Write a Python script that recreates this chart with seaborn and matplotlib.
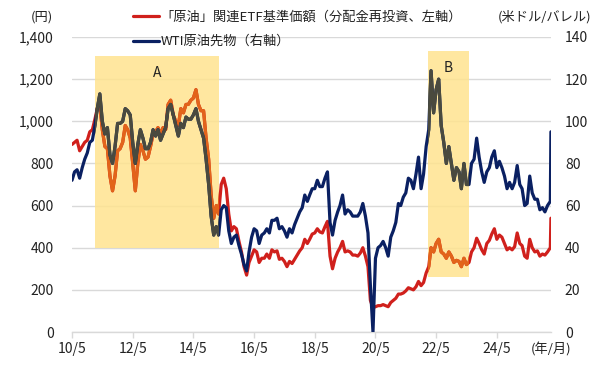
import numpy as np
import pandas as pd
import matplotlib
matplotlib.use("Agg")
import matplotlib.pyplot as plt
import matplotlib.dates as mdates
from matplotlib.patches import Rectangle
from matplotlib.lines import Line2D
from matplotlib.ticker import FuncFormatter, MultipleLocator
import seaborn as sns

# ---------------- data ----------------
month_starts = list(pd.date_range("2010-05-01", "2026-01-01", freq="MS"))
dates = month_starts + [pd.Timestamp("2026-02-04"), pd.Timestamp("2026-02-11")]

# WTI crude futures (USD/bbl, right axis)
wti = [
    72, 76, 77, 73, 78, 82, 85, 90,                          # 2010 May-Dec
    91, 98, 106, 113, 100, 94, 97, 84, 80, 88, 99, 99,       # 2011
    100, 106, 105, 103, 90, 80, 89, 96, 92, 87, 87, 90,      # 2012
    96, 93, 96, 91, 94, 97, 106, 108, 103, 98, 93, 99,       # 2013
    97, 102, 101, 101, 103, 106, 100, 96, 92, 82, 70, 55,    # 2014
    46, 50, 46, 58, 60, 59, 48, 42, 45, 46, 41, 37,          # 2015
    32, 29, 38, 45, 49, 48, 42, 46, 47, 49, 47, 53,          # 2016
    53, 54, 49, 50, 48, 45, 49, 47, 51, 54, 57, 59,          # 2017
    65, 62, 65, 68, 68, 72, 69, 69, 73, 76, 52, 46,          # 2018
    53, 57, 60, 65, 56, 58, 57, 55, 55, 55, 57, 61,          # 2019
    55, 47, 22, 0, 35, 40, 41, 43, 40, 36, 45, 48,           # 2020
    52, 61, 60, 64, 66, 73, 72, 68, 75, 83, 68, 75,          # 2021
    88, 96, 124, 104, 115, 120, 98, 90, 80, 88, 80, 72,      # 2022
    78, 76, 68, 80, 70, 70, 80, 82, 92, 83, 76, 71,          # 2023
    76, 78, 83, 86, 78, 81, 78, 74, 68, 71, 68, 71,          # 2024
    79, 70, 68, 60, 61, 74, 66, 63, 63, 58, 59, 57,          # 2025
    60, 62, 95,                                              # 2026
]

# "Crude oil" related ETF NAV (yen, dividends reinvested, left axis)
etf = [
    890, 900, 910, 860, 880, 900, 910, 950,                              # 2010
    960, 1010, 1060, 1080, 960, 880, 870, 740, 670, 740, 860, 870,       # 2011
    900, 980, 960, 920, 800, 670, 800, 890, 860, 820, 830, 880,          # 2012
    940, 950, 970, 940, 970, 960, 1080, 1100, 1030, 1000, 980, 1060,     # 2013
    1040, 1080, 1080, 1100, 1110, 1150, 1080, 1050, 1050, 920, 820, 650, # 2014
    540, 600, 560, 700, 730, 680, 560, 480, 500, 490, 430, 380,          # 2015
    310, 270, 330, 360, 390, 380, 330, 350, 350, 370, 350, 390,          # 2016
    380, 385, 345, 350, 335, 310, 335, 325, 345, 365, 385, 400,          # 2017
    440, 420, 440, 465, 470, 490, 475, 470, 500, 525, 360, 300,          # 2018
    350, 380, 400, 430, 380, 385, 380, 365, 365, 360, 375, 400,          # 2019
    360, 310, 150, 115, 120, 125, 125, 130, 125, 120, 140, 150,          # 2020
    160, 180, 180, 185, 195, 210, 205, 200, 215, 240, 220, 235,          # 2021
    280, 310, 400, 380, 420, 440, 380, 370, 350, 380, 360, 330,          # 2022
    340, 335, 310, 350, 320, 330, 380, 400, 445, 420, 390, 370,          # 2023
    420, 435, 465, 490, 440, 460, 450, 420, 390, 400, 390, 405,          # 2024
    470, 420, 410, 360, 350, 440, 400, 380, 385, 360, 370, 365,          # 2025
    380, 400, 540,                                                       # 2026
]

# highlighted periods: label, start, end, lower / upper bound (left-axis units)
region_labels = ["A", "B"]
region_start = ["2011-02-02", "2022-01-24"]
region_end = ["2015-03-01", "2023-06-01"]
region_low = [400, 262]
region_high = [1310, 1335]

tick_dates = ["2010-05-01", "2012-05-01", "2014-05-01", "2016-05-01",
              "2018-05-01", "2020-05-01", "2022-05-01", "2024-05-01"]
tick_labels = ["10/5", "12/5", "14/5", "16/5", "18/5", "20/5", "22/5", "24/5"]

etf_label = "「原油」関連ETF基準価額（分配金再投資、左軸）"
wti_label = "WTI原油先物（右軸）"

# ---------------- style ----------------
sns.set_theme(style="white")
plt.rcParams['font.family'] = ['Noto Sans CJK JP', 'DejaVu Sans']

RED = "#D0201C"
NAVY = "#0A2062"
ORANGE = "#E2641A"
GREY = "#4A4A3E"
BAND = "#FFE38F"
GRID = "#D9D9D9"
TXT = "#222222"

df = pd.DataFrame({"date": dates, "etf": etf, "wti": wti})

fig = plt.figure(figsize=(6.04, 3.78), dpi=100)
ax = fig.add_axes([72/604, 46/378, 479/604, 295/378])

sns.lineplot(data=df, x="date", y="etf", ax=ax, color=RED, lw=2.3, zorder=3)
ax2 = ax.twinx()
sns.lineplot(data=df, x="date", y="wti", ax=ax2, color=NAVY, lw=2.3, zorder=3)

ax.set_xlim(pd.Timestamp("2010-05-01"), pd.Timestamp("2026-02-12"))
ax.set_ylim(0, 1400)
ax2.set_ylim(0, 140)

# highlighted boxes with recoloured lines inside
for lab, s, e, lo, hi in zip(region_labels, region_start, region_end, region_low, region_high):
    x0 = mdates.date2num(pd.Timestamp(s))
    x1 = mdates.date2num(pd.Timestamp(e))
    rect = Rectangle((x0, lo), x1 - x0, hi - lo, facecolor=BAND, edgecolor="none",
                     alpha=0.85, zorder=1)
    ax.add_patch(rect)
    l1, = ax.plot(df["date"], df["etf"], color=ORANGE, lw=2.3, zorder=4)
    l1.set_clip_path(rect)
    l2, = ax2.plot(df["date"], df["wti"], color=GREY, lw=2.3, zorder=4)
    l2.set_clip_path(rect)
    ax.text((x0 + x1) / 2, hi - 80, lab, ha="center", va="center",
            fontsize=10, color=TXT, zorder=5)

# axes cosmetics
ax.set_xlabel("")
ax.set_ylabel("")
ax2.set_ylabel("")
ax.set_xticks([mdates.date2num(pd.Timestamp(d)) for d in tick_dates])
ax.set_xticklabels(tick_labels)
ax.yaxis.set_major_locator(MultipleLocator(200))
ax.yaxis.set_major_formatter(FuncFormatter(lambda v, p: f"{v:,.0f}"))
ax2.yaxis.set_major_locator(MultipleLocator(20))
ax2.yaxis.set_major_formatter(FuncFormatter(lambda v, p: f"{v:.0f}"))

ax.set_axisbelow(True)
ax.yaxis.grid(True, color=GRID, lw=1)
ax.xaxis.grid(False)
ax2.grid(False)

for sp in ["top", "left", "right"]:
    ax.spines[sp].set_visible(False)
for sp in ["top", "left", "right", "bottom"]:
    ax2.spines[sp].set_visible(False)
ax.spines["bottom"].set_color(GRID)
ax.spines["bottom"].set_linewidth(1)

ax.tick_params(axis="x", bottom=True, length=4, width=1, color=GRID, pad=3,
               labelsize=10, labelcolor=TXT)
ax.tick_params(axis="y", left=False, length=0, pad=13, labelsize=10, labelcolor=TXT)
ax2.tick_params(axis="y", right=False, length=0, pad=10, labelsize=10, labelcolor=TXT)

# unit labels
fig.text(42/604, 1 - 17/378, "(円)", ha="center", va="center", fontsize=9.5, color=TXT)
fig.text(545/604, 1 - 17/378, "(米ドル/バレル)", ha="center", va="center", fontsize=9.5, color=TXT)
fig.text(551/604, 1 - 350/378, "(年/月)", ha="center", va="center", fontsize=9.5, color=TXT)

# legend
handles = [Line2D([0], [0], color=RED, lw=2.3), Line2D([0], [0], color=NAVY, lw=2.3)]
leg = ax2.legend(handles, [etf_label, wti_label], loc="upper left",
                 bbox_to_anchor=(133/604, 1 - 11/378), bbox_transform=fig.transFigure,
                 frameon=False, fontsize=9.5, handlelength=2.0, handletextpad=0.1,
                 labelspacing=0.85, borderpad=0, borderaxespad=0)
for t in leg.get_texts():
    t.set_color(TXT)

fig.savefig("out.png", dpi=100)
